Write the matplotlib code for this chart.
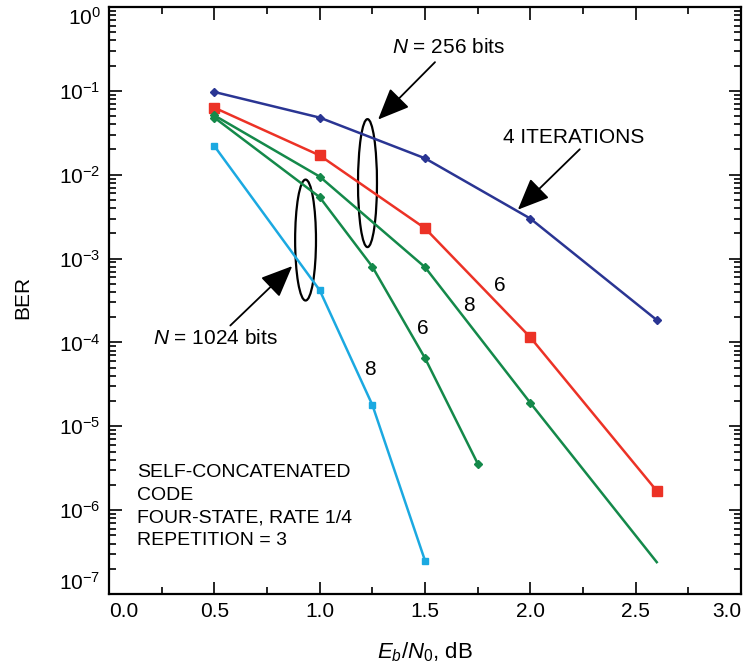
import numpy as np
import matplotlib
matplotlib.use('Agg')
import matplotlib.pyplot as plt
from matplotlib.patches import Ellipse
from matplotlib.ticker import LogLocator, FixedLocator

plt.rcParams['font.family'] = ['Liberation Sans', 'DejaVu Sans']
plt.rcParams['mathtext.fontset'] = 'custom'
plt.rcParams['mathtext.rm'] = 'Liberation Sans'
plt.rcParams['mathtext.it'] = 'Liberation Sans:italic'

# N = 256 bits
eb_256_4 = [0.5, 1.0, 1.5, 2.0, 2.6]
ber_256_4 = [9.7e-2, 4.8e-2, 1.57e-2, 3.0e-3, 1.85e-4]
eb_256_6 = [0.5, 1.0, 1.5, 2.0, 2.6]
ber_256_6 = [6.3e-2, 1.7e-2, 2.3e-3, 1.15e-4, 1.7e-6]
eb_256_8 = [0.5, 1.0, 1.5, 2.0, 2.6]
ber_256_8 = [5.1e-2, 9.5e-3, 7.9e-4, 1.9e-5, 2.4e-7]
# N = 1024 bits
eb_1024_6 = [0.5, 1.0, 1.25, 1.5, 1.75]
ber_1024_6 = [4.8e-2, 5.4e-3, 8.0e-4, 6.5e-5, 3.6e-6]
eb_1024_8 = [0.5, 1.0, 1.25, 1.5]
ber_1024_8 = [2.2e-2, 4.2e-4, 1.8e-5, 2.5e-7]

navy = '#2a3593'
red = '#ec3226'
green = '#14894a'
cyan = '#1ba9e1'

fig = plt.figure(figsize=(7.44, 6.67), dpi=100)
ax = fig.add_axes([0.1465, 0.1094, 0.8495, 0.8801])

ax.plot(eb_256_4, ber_256_4, color=navy, lw=1.8, marker='D', ms=4)
ax.plot(eb_256_6, ber_256_6, color=red, lw=1.8, marker='s', ms=6.5)
ax.plot(eb_256_8, ber_256_8, color=green, lw=1.8, marker='D', ms=4, markevery=[0, 1, 2, 3])
ax.plot(eb_1024_6, ber_1024_6, color=green, lw=1.8, marker='D', ms=4)
ax.plot(eb_1024_8, ber_1024_8, color=cyan, lw=1.8, marker='s', ms=5)

ax.set_yscale('log')
ax.set_xlim(0, 3.0)
ax.set_ylim(1e-7, 1)
ax.xaxis.set_major_locator(FixedLocator(np.arange(0, 3.01, 0.5)))
ax.xaxis.set_minor_locator(FixedLocator(np.arange(0.25, 3.0, 0.5)))
ax.yaxis.set_major_locator(FixedLocator(10.0 ** np.arange(-7, 1)))
ax.yaxis.set_minor_locator(LogLocator(base=10, subs=np.arange(2, 10), numticks=20))
ax.yaxis.set_minor_formatter(plt.NullFormatter())
ax.set_xticklabels(['0.0', '0.5', '1.0', '1.5', '2.0', '2.5', '3.0'])
ax.set_yticklabels([r'$10^{-%d}$' % k for k in range(7, 0, -1)] + [r'$10^{0}$'])
ax.tick_params(which='both', direction='in', top=True, right=True, labelsize=15, width=1.2)
ax.tick_params(which='major', length=9, pad=6)
ax.tick_params(which='minor', length=5)
xl = ax.get_xticklabels()
xl[0].set_ha('left')
xl[-1].set_ha('right')
yl = ax.get_yticklabels()
yl[-1].set_va('top')
yl[0].set_va('bottom')
for s in ax.spines.values():
    s.set_linewidth(1.6)

ax.set_ylabel('BER', fontsize=15)
ax.yaxis.set_label_coords(-0.122, 0.505)
ax.set_xlabel(r'$E_b/N_0$, dB', fontsize=16)
ax.xaxis.set_label_coords(0.5, -0.079)

# ellipses grouping curves
ax.add_patch(Ellipse((0.409, 0.700), 0.030, 0.218, transform=ax.transAxes,
                     fill=False, ec='black', lw=1.6))
ax.add_patch(Ellipse((0.311, 0.603), 0.033, 0.206, transform=ax.transAxes,
                     fill=False, ec='black', lw=1.6))

arrow = dict(arrowstyle='-|>,head_length=1.4,head_width=0.6', mutation_scale=14,
             color='black', lw=1.3, shrinkA=0, shrinkB=0)

def px(x, y):
    return (x - 108.5) / 211, 10 ** (-(y - 6.3) / 84.7)

ax.annotate('', xy=px(378, 120), xytext=px(435, 62), arrowprops=arrow)
ax.text(*px(449, 47), r'$N$ = 256 bits', fontsize=15, ha='center', va='center')

ax.annotate('', xy=px(292, 268), xytext=px(230, 328), arrowprops=arrow)
ax.text(*px(215, 341), r'$N$ = 1024 bits', fontsize=15, ha='center', va='center')

ax.annotate('', xy=px(518, 211), xytext=px(580, 150), arrowprops=arrow)
ax.text(*px(574, 138), '4 ITERATIONS', fontsize=15, ha='center', va='center')

ax.text(*px(500, 288), '6', fontsize=15, ha='center', va='center')
ax.text(*px(469, 308), '8', fontsize=15, ha='center', va='center')
ax.text(*px(423, 331), '6', fontsize=15, ha='center', va='center')
ax.text(*px(370, 372), '8', fontsize=15, ha='center', va='center')

ax.text(*px(137, 468), 'SELF-CONCATENATED\nCODE\nFOUR-STATE, RATE 1/4\nREPETITION = 3',
        fontsize=14, ha='left', va='top', linespacing=1.42)

fig.savefig('out.png', dpi=100)
